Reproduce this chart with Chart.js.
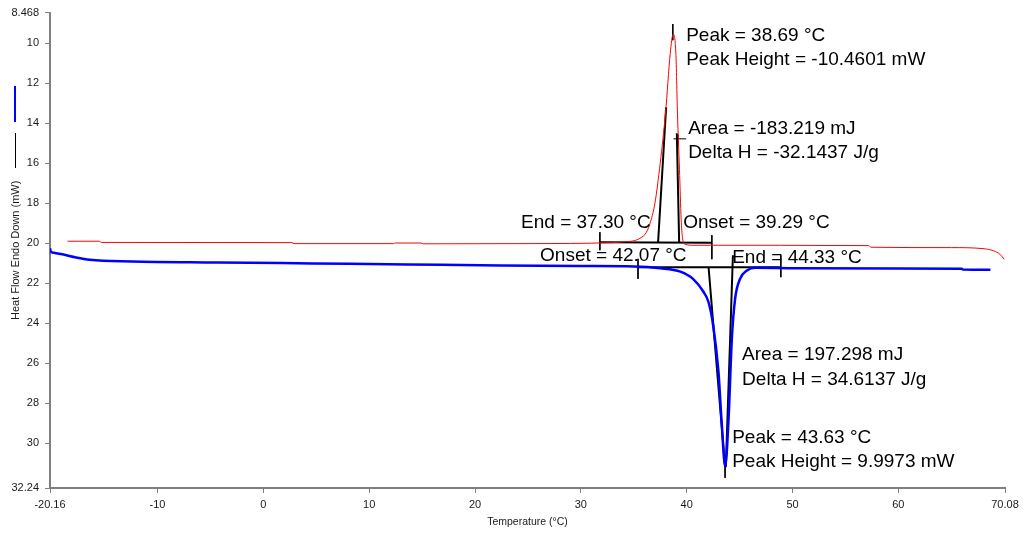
<!DOCTYPE html>
<html>
<head>
<meta charset="utf-8">
<script src="https://cdn.jsdelivr.net/npm/chart.js@4/dist/chart.umd.min.js"></script>
<style>
  html, body { margin: 0; padding: 0; background: #fff; }
  #wrap { width: 1024px; height: 535px; }
</style>
</head>
<body>
<div id="wrap"><canvas id="dscChart"></canvas></div>
<script>
// cooling run (red) - temperature (°C) / heat flow (mW)
const redT  = [-18.5, -15.5, -15.3, 2.7, 2.9, 12.3, 12.5, 14.9, 15.1, 25.0, 33.0, 34.0, 35.0, 35.6, 36.2, 36.6, 37.0, 37.5, 38.0, 38.45, 38.72, 38.98, 39.13, 39.32, 39.48, 39.6, 39.75, 40.5, 57.2, 57.4, 65.0, 68.0, 69.0, 69.6, 70.0];
const redHF = [19.90, 19.90, 19.96, 19.97, 20.02, 20.02, 19.99, 19.99, 20.03, 20.02, 19.97, 19.93, 19.88, 19.75, 19.45, 18.9, 18.0, 16.0, 13.5, 10.5, 9.55, 10.5, 13.5, 16.3, 18.8, 19.7, 20.02, 20.10, 20.12, 20.20, 20.22, 20.27, 20.38, 20.55, 20.80];

// heating run (blue)
const blueT  = [-20.16, -20.1, -19.8, -18.6, -17.8, -16.4, -12.4, -4.4, 4.6, 13.6, 22.4, 30.0, 35.0, 37.5, 39.4, 40.6, 41.6, 42.06, 42.5, 43.0, 43.3, 43.64, 43.95, 44.27, 44.58, 45.05, 45.7, 46.5, 50.0, 60.0, 66.0, 66.1, 68.7];
const blueHF = [20.25, 20.40, 20.48, 20.60, 20.70, 20.83, 20.91, 20.96, 21.01, 21.06, 21.11, 21.14, 21.16, 21.25, 21.42, 21.78, 22.44, 22.94, 24.1, 26.4, 28.9, 31.15, 28.9, 24.76, 22.77, 21.78, 21.36, 21.23, 21.25, 21.27, 21.28, 21.32, 21.33];

const xTicks = [-20.16, -10, 0, 10, 20, 30, 40, 50, 60, 70.08];
const yTicks = [8.468, 10, 12, 14, 16, 18, 20, 22, 24, 26, 28, 30, 32.24];

// analysis construction lines [t1, hf1, t2, hf2]
const tangentSegs = [
  [38.06, 13.2, 37.30, 19.95],
  [39.07, 14.5, 39.29, 19.97],
  [31.80, 19.95, 42.38, 19.98],
  [42.07, 21.20, 43.63, 31.20],
  [44.37, 20.60, 43.70, 31.20],
  [35.40, 21.20, 48.90, 21.20]
];
const markerSegs = [
  [38.69, 9.04, 38.69, 9.85],
  [38.75, 14.78, 39.95, 14.78],
  [39.17, 14.56, 39.17, 15.06],
  [31.80, 19.45, 31.80, 20.35],
  [42.38, 19.60, 42.38, 20.80],
  [35.40, 20.78, 35.40, 21.78],
  [48.90, 20.60, 48.90, 21.70],
  [43.63, 31.10, 43.63, 31.73]
];

// result text, anchored at [temperature, heat flow] (left / middle)
const notes = [
  ['Peak = 38.69 °C', 39.95, 9.65],
  ['Peak Height = -10.4601 mW', 39.95, 10.85],
  ['Area = -183.219 mJ', 40.14, 14.28],
  ['Delta H = -32.1437 J/g', 40.14, 15.47],
  ['End = 37.30 °C', 24.35, 19.0],
  ['Onset = 39.29 °C', 39.67, 19.0],
  ['Onset = 42.07 °C', 26.15, 20.62],
  ['End = 44.33 °C', 44.30, 20.75],
  ['Area = 197.298 mJ', 45.24, 25.57],
  ['Delta H = 34.6137 J/g', 45.24, 26.82],
  ['Peak = 43.63 °C', 44.30, 29.75],
  ['Peak Height = 9.9973 mW', 44.30, 30.95]
];

const toPoints = (xs, ys) => xs.map((v, i) => ({ x: v, y: ys[i] }));
const segPoints = segs => {
  const pts = [];
  segs.forEach(s => {
    pts.push({ x: s[0], y: s[1] }, { x: s[2], y: s[3] }, { x: s[2], y: null });
  });
  return pts;
};

const FONT = '"Liberation Sans", Arial, sans-serif';

const notesPlugin = {
  id: 'notes',
  afterDatasetsDraw(chart) {
    const { ctx, scales: { x, y } } = chart;
    ctx.save();
    ctx.font = '19px ' + FONT;
    ctx.fillStyle = '#000';
    ctx.textBaseline = 'middle';
    ctx.textAlign = 'left';
    notes.forEach(([txt, t, hf]) => {
      ctx.fillText(txt, x.getPixelForValue(t), y.getPixelForValue(hf));
    });
    // series key beside the y title
    ctx.lineWidth = 2;
    ctx.strokeStyle = '#0000ff';
    ctx.beginPath(); ctx.moveTo(15, 86); ctx.lineTo(15, 122); ctx.stroke();
    ctx.lineWidth = 1;
    ctx.strokeStyle = '#000';
    ctx.beginPath(); ctx.moveTo(15.5, 133); ctx.lineTo(15.5, 168); ctx.stroke();
    ctx.restore();
  }
};

const ctx = document.getElementById('dscChart').getContext('2d');

const dscChart = new Chart(ctx, {
  type: 'line',
  data: {
    datasets: [
      {
        label: 'Cooling',
        data: toPoints(redT, redHF),
        borderColor: '#ff0000',
        borderWidth: 1,
        cubicInterpolationMode: 'monotone'
      },
      {
        label: 'Heating',
        data: toPoints(blueT, blueHF),
        borderColor: '#0000ff',
        borderWidth: 2.5,
        cubicInterpolationMode: 'monotone'
      },
      {
        label: 'Tangents',
        data: segPoints(tangentSegs),
        borderColor: '#000',
        borderWidth: 2,
        spanGaps: false
      },
      {
        label: 'Markers',
        data: segPoints(markerSegs),
        borderColor: '#000',
        borderWidth: 1,
        spanGaps: false
      }
    ]
  },
  options: {
    responsive: true,
    maintainAspectRatio: false,
    animation: false,
    layout: { padding: { top: 9, right: 19, left: 0, bottom: 0 } },
    elements: { point: { radius: 0, hoverRadius: 0 } },
    plugins: {
      legend: { display: false },
      tooltip: { enabled: false }
    },
    scales: {
      x: {
        type: 'linear',
        min: -20.16,
        max: 70.08,
        afterBuildTicks: s => { s.ticks = xTicks.map(v => ({ value: v })); },
        afterFit: s => { s.height = 47; },
        ticks: {
          autoSkip: false,
          maxRotation: 0,
          padding: 5,
          color: '#1a1a1a',
          font: { family: FONT, size: 11 },
          callback: v => String(v)
        },
        grid: { drawOnChartArea: false, drawTicks: true, tickLength: 5, color: '#7f7f7f' },
        border: { display: true, color: '#7f7f7f', width: 2 },
        title: {
          display: true,
          text: 'Temperature (°C)',
          color: '#1a1a1a',
          font: { family: FONT, size: 10.5 },
          padding: { top: 0, bottom: 7 }
        }
      },
      y: {
        type: 'linear',
        reverse: true,
        min: 8.468,
        max: 32.24,
        afterBuildTicks: s => { s.ticks = yTicks.map(v => ({ value: v })); },
        afterFit: s => { s.width = 50; },
        ticks: {
          autoSkip: false,
          padding: 6,
          color: '#1a1a1a',
          font: { family: FONT, size: 11 },
          callback: v => String(v)
        },
        grid: { drawOnChartArea: false, drawTicks: true, tickLength: 5, color: '#7f7f7f' },
        border: { display: true, color: '#7f7f7f', width: 2 },
        title: {
          display: true,
          text: 'Heat Flow Endo Down (mW)',
          color: '#1a1a1a',
          font: { family: FONT, size: 11 },
          padding: { top: 9, bottom: 0 }
        }
      }
    }
  },
  plugins: [notesPlugin]
});
</script>
</body>
</html>
